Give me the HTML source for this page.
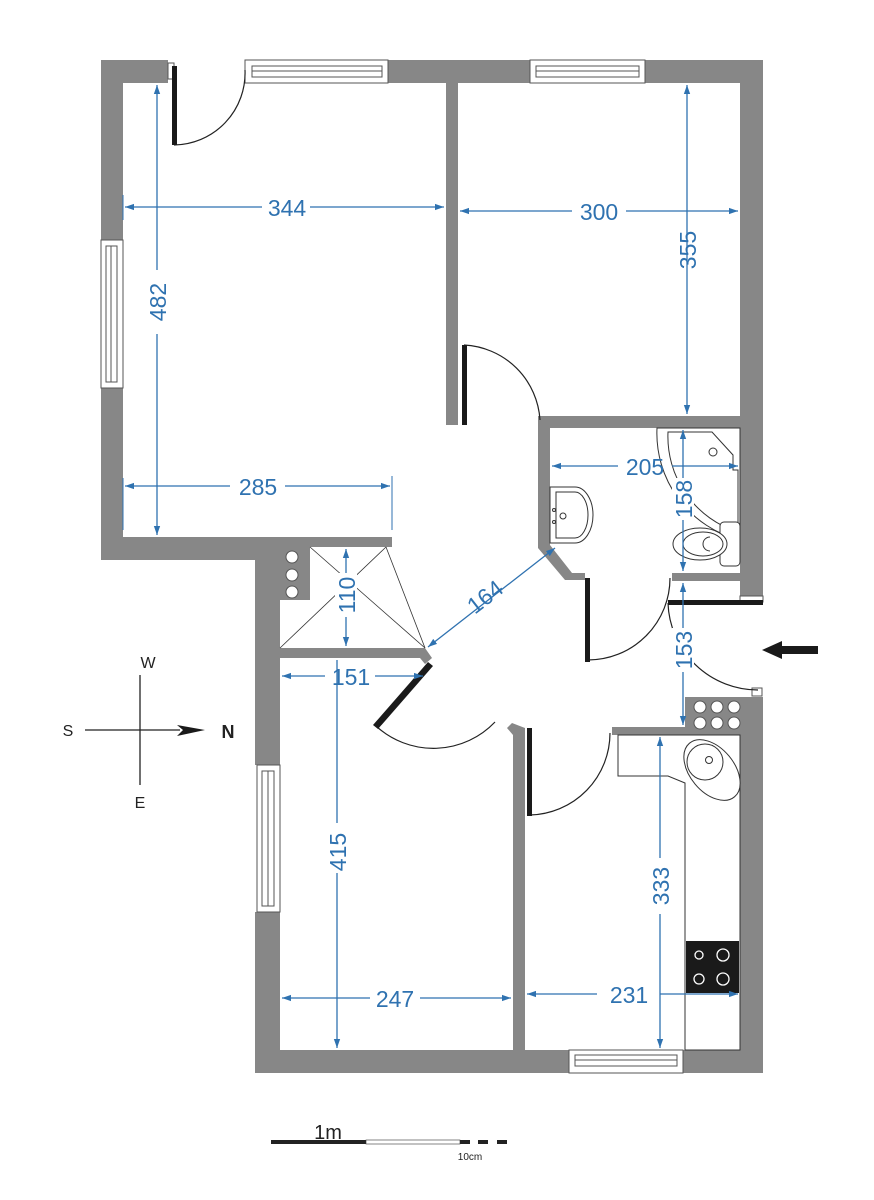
<!DOCTYPE html>
<html><head><meta charset="utf-8"><style>
html,body{margin:0;padding:0;background:#fff;width:874px;height:1200px;overflow:hidden}
svg{display:block}
text{font-family:"Liberation Sans",sans-serif}
.d{fill:#2f72b0;font-size:23px}
</style></head><body>
<svg width="874" height="1200" viewBox="0 0 874 1200" xmlns="http://www.w3.org/2000/svg">
<defs>
<marker id="a" viewBox="0 0 10 10" refX="10" refY="5" markerWidth="7" markerHeight="7" orient="auto-start-reverse"><path d="M0,1.5L10,5L0,8.5z" fill="#2f72b0"/></marker>
</defs>
<g fill="#878787" stroke="none">
<rect x="101" y="60" width="67" height="23"/>
<rect x="388" y="60" width="142" height="23"/>
<rect x="645" y="60" width="118" height="23"/>
<rect x="101" y="60" width="22" height="180"/>
<rect x="101" y="388" width="22" height="172"/>
<rect x="101" y="537" width="180" height="23"/>
<rect x="255" y="537" width="137" height="10"/>
<rect x="255" y="537" width="55" height="63"/>
<rect x="255" y="537" width="25" height="228"/>
<rect x="255" y="912" width="25" height="161"/>
<rect x="255" y="1050" width="314" height="23"/>
<rect x="683" y="1050" width="80" height="23"/>
<rect x="740" y="60" width="23" height="538"/>
<rect x="740" y="697" width="23" height="376"/>
<rect x="685" y="697" width="78" height="38"/>
<rect x="446" y="83" width="12" height="342"/>
<rect x="538" y="416" width="202" height="12"/>
<path d="M538,425 L550,425 L550,545 L572,573 L585,573 L585,580 L565,580 L538,548Z"/>
<rect x="672" y="573" width="68" height="8"/>
<path d="M280,648 L425,648 L432,658 L425,664 L420,658 L280,658Z"/>
<path d="M513,735 L507,728 L512,723 L525,728 L525,1050 L513,1050Z"/>
<rect x="612" y="727" width="128" height="8"/>
</g>
<g fill="#fff" stroke="#555"><circle cx="292" cy="557" r="6"/><circle cx="292" cy="575" r="6"/><circle cx="292" cy="592" r="6"/>
<circle cx="700" cy="707" r="6"/><circle cx="717" cy="707" r="6"/><circle cx="734" cy="707" r="6"/>
<circle cx="700" cy="723" r="6"/><circle cx="717" cy="723" r="6"/><circle cx="734" cy="723" r="6"/></g>
<g fill="#fff" stroke="#555" stroke-width="1">
<rect x="245" y="60" width="143" height="23"/><rect x="252" y="66" width="130" height="11"/><line x1="252" y1="71" x2="382" y2="71"/>
<rect x="530" y="60" width="115" height="23"/><rect x="536" y="66" width="103" height="11"/><line x1="536" y1="71" x2="639" y2="71"/>
<rect x="101" y="240" width="22" height="148"/><rect x="106" y="246" width="11" height="136"/><line x1="111" y1="246" x2="111" y2="382"/>
<rect x="257" y="765" width="23" height="147"/><rect x="262" y="771" width="12" height="135"/><line x1="268" y1="771" x2="268" y2="906"/>
<rect x="569" y="1050" width="114" height="23"/><rect x="575" y="1055" width="102" height="11"/><line x1="575" y1="1060" x2="677" y2="1060"/>
<rect x="168" y="63" width="6" height="16"/><rect x="740" y="596" width="23" height="6"/><rect x="752" y="688" width="10" height="8"/>
</g>
<g fill="none" stroke="#222" stroke-width="1.2">
<path d="M174,145 A72,72 0 0 0 245,70"/>
<path d="M464,345 A80,80 0 0 1 540,420"/>
<path d="M588,660 A82,82 0 0 0 670,578"/>
<path d="M668,603 A90,90 0 0 0 758,690"/>
<path d="M376,726 A85,85 0 0 0 495,722"/>
<path d="M530,815 A82,82 0 0 0 610,733"/>
</g>
<g fill="#1a1a1a">
<rect x="172" y="66" width="5" height="79"/>
<rect x="462" y="345" width="5" height="80"/>
<rect x="585" y="578" width="5" height="84"/>
<rect x="668" y="600" width="95" height="5"/>
<rect x="527" y="728" width="5" height="88"/>
<path d="M428,662 L433,666 L378,729 L373,725Z"/>
</g>
<g stroke="#333" stroke-width="0.8" fill="none">
<line x1="310" y1="547" x2="425" y2="648"/><line x1="386" y1="547" x2="280" y2="648"/><line x1="386" y1="547" x2="425" y2="648"/>
</g>
<g fill="#fff" stroke="#333" stroke-width="1">
<path d="M657,428 L740,428 L740,540 A 110 110 0 0 1 657,428Z"/>
<path d="M668,432 L712,432 L733,455 L733,470 L738,470 L738,532 A100,100 0 0 1 668,432Z"/>
<circle cx="713" cy="452" r="4"/>
<path d="M550,487 L575,487 A18,28 0 0 1 575,543 L550,543Z"/>
<path d="M556,492 L575,492 A13,23 0 0 1 575,538 L556,538Z"/>
<circle cx="563" cy="516" r="3"/><circle cx="554" cy="510" r="1.5"/><circle cx="554" cy="522" r="1.5"/>
<rect x="720" y="522" width="20" height="44" rx="4"/>
<ellipse cx="700" cy="544" rx="27" ry="16"/><ellipse cx="703" cy="544" rx="20" ry="12"/>
<path d="M710,537 A6,6 0 0 0 710,551"/>
</g>
<g fill="#fff" stroke="#333" stroke-width="1">
<path d="M618,735 L685,735 L740,735 L740,1050 L685,1050 L685,783 L668,776 L618,776Z"/>
<ellipse cx="712" cy="770" rx="22" ry="35" transform="rotate(-40 712 770)"/>
<circle cx="705" cy="762" r="18"/><circle cx="709" cy="760" r="3.5"/>
</g>
<rect x="686" y="941" width="53" height="52" fill="#1a1a1a"/>
<g fill="none" stroke="#fff" stroke-width="1.3"><circle cx="699" cy="955" r="4"/><circle cx="723" cy="955" r="6"/><circle cx="699" cy="979" r="5"/><circle cx="723" cy="979" r="6"/></g>
<g stroke="#2f72b0" stroke-width="1.3" fill="none" marker-start="url(#a)" marker-end="url(#a)">
<line x1="157" y1="85" x2="157" y2="535"/>
<line x1="125" y1="207" x2="262" y2="207" marker-end="none"/><line x1="310" y1="207" x2="444" y2="207" marker-start="none"/>
<line x1="460" y1="211" x2="572" y2="211" marker-end="none"/><line x1="626" y1="211" x2="738" y2="211" marker-start="none"/>
<line x1="687" y1="85" x2="687" y2="414"/>
<line x1="125" y1="486" x2="230" y2="486" marker-end="none"/><line x1="285" y1="486" x2="390" y2="486" marker-start="none"/>
<line x1="552" y1="466" x2="618" y2="466" marker-end="none"/><line x1="672" y1="466" x2="738" y2="466" marker-start="none"/>
<line x1="683" y1="430" x2="683" y2="571"/>
<line x1="683" y1="583" x2="683" y2="725"/>
<line x1="346" y1="549" x2="346" y2="646"/>
<line x1="282" y1="676" x2="325" y2="676" marker-end="none"/><line x1="375" y1="676" x2="423" y2="676" marker-start="none"/>
<line x1="428" y1="647" x2="555" y2="548"/>
<line x1="337" y1="660" x2="337" y2="1048" marker-start="none"/>
<line x1="282" y1="998" x2="370" y2="998" marker-end="none"/><line x1="420" y1="998" x2="511" y2="998" marker-start="none"/>
<line x1="527" y1="994" x2="597" y2="994" marker-end="none"/><line x1="660" y1="994" x2="738" y2="994" marker-start="none"/>
<line x1="660" y1="737" x2="660" y2="1048"/>
</g>
<g stroke="#2f72b0" stroke-width="1">
<line x1="123" y1="195" x2="123" y2="220"/><line x1="392" y1="476" x2="392" y2="530"/><line x1="123" y1="478" x2="123" y2="530"/>
</g>
<g class="d" text-anchor="middle">
<rect x="140" y="270" width="34" height="64" fill="#fff"/>
<text x="287" y="216">344</text>
<text x="599" y="220">300</text>
<text x="258" y="495">285</text>
<text x="645" y="475">205</text>
<text transform="translate(166,302) rotate(-90)">482</text>
<text transform="translate(696,250) rotate(-90)">355</text>
<rect x="672" y="478" width="22" height="42" fill="#fff"/>
<text transform="translate(692,499) rotate(-90)">158</text>
<rect x="672" y="628" width="22" height="44" fill="#fff"/>
<text transform="translate(692,650) rotate(-90)">153</text>
<rect x="335" y="573" width="22" height="44" fill="#fff"/>
<text transform="translate(355,595) rotate(-90)">110</text>
<text x="351" y="685">151</text>
<text transform="translate(490,603) rotate(-38)">164</text>
<rect x="326" y="823" width="22" height="50" fill="#fff"/>
<text transform="translate(346,852) rotate(-90)">415</text>
<text x="395" y="1007">247</text>
<text x="629" y="1003">231</text>
<rect x="649" y="858" width="22" height="56" fill="#fff"/>
<text transform="translate(669,886) rotate(-90)">333</text>
</g>
<path d="M762,650 L782,641 L782,646 L818,646 L818,654 L782,654 L782,659Z" fill="#1a1a1a"/>
<g stroke="#222" stroke-width="1.3"><line x1="140" y1="675" x2="140" y2="785"/><line x1="85" y1="730" x2="180" y2="730"/></g>
<path d="M177,725 L205,730 L177,736 L183,730Z" fill="#1a1a1a"/>
<g font-size="16" fill="#222" text-anchor="middle">
<text x="148" y="668">W</text><text x="140" y="808">E</text><text x="68" y="736">S</text>
<text x="228" y="738" font-weight="bold" font-size="18">N</text>
</g>
<text x="328" y="1139" font-size="20" fill="#222" text-anchor="middle">1m</text>
<rect x="271" y="1140" width="95" height="4" fill="#222"/>
<rect x="366" y="1140" width="94" height="4" fill="#fff" stroke="#333" stroke-width="0.6"/>
<rect x="460" y="1140" width="10" height="4" fill="#222"/><rect x="478" y="1140" width="10" height="4" fill="#222"/><rect x="497" y="1140" width="10" height="4" fill="#222"/>
<text x="470" y="1160" font-size="10" fill="#222" text-anchor="middle">10cm</text>
</svg>
</body></html>
